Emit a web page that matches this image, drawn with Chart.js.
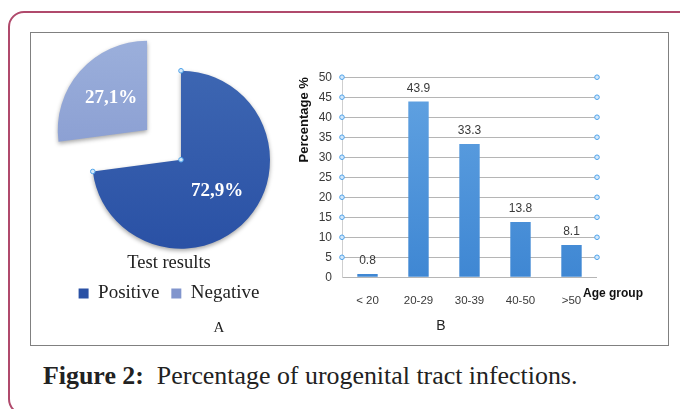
<!DOCTYPE html>
<html>
<head>
<meta charset="utf-8">
<script src="https://cdn.jsdelivr.net/npm/chart.js@4.4.0/dist/chart.umd.min.js"></script>
<style>
  html, body { margin: 0; padding: 0; background: #fff; width: 680px; height: 409px; overflow: hidden; }
  .frame { position: absolute; left: 8px; top: 11px; width: 720px; height: 400px; border: 2px solid #b04a6c; border-radius: 16px; }
  .panel { position: absolute; left: 30px; top: 32px; width: 639px; height: 314px; box-sizing: border-box; border: 1.5px solid #808080; }
  .box { position: absolute; }
  .tag { position: absolute; color: #222; transform: translate(-50%, -50%); line-height: 1; }
  .caption { position: absolute; left: 43px; top: 363px; font-family: "Liberation Serif", serif; font-size: 25.9px; line-height: 1; color: #222; white-space: nowrap; }
</style>
</head>
<body>
<div class="frame"></div>
<div class="panel"></div>
<div class="box" style="left:31px; top:34px; width:300px; height:300px;"><canvas id="pieChart"></canvas></div>
<div class="box" style="left:290px; top:60px; width:380px; height:270px;"><canvas id="barChart"></canvas></div>
<div class="tag" style="left:219px; top:327px; font-family:'Liberation Serif', serif; font-size:15px;">A</div>
<div class="tag" style="left:441px; top:325px; font-family:'Liberation Sans', sans-serif; font-size:14px;">B</div>
<div class="caption"><b>Figure 2:</b>&nbsp; Percentage of urogenital tract infections.</div>
<script>
// pie: test results
const pieLabels = ['Positive', 'Negative'];
const pieValues = [72.9, 27.1];
const pieTitle = 'Test results';
const pieColors = [['#3d66b2', '#2a51a5'], ['#9bafdb', '#8195cd']];

// bars: age groups
const ageGroups = ['< 20', '20-29', '30-39', '40-50', '>50'];
const infectionPct = [0.8, 43.9, 33.3, 13.8, 8.1];
const yAxisTitle = 'Percentage %';
const xAxisTitle = 'Age group';

const PIE_RADIUS = 89;
const EXPLODE = 180;       // chart.js draws offset/4
const DRAW_FACTOR = 0.25;

const handleDot = (ctx, x, y) => {
    ctx.save();
    ctx.beginPath();
    ctx.arc(x, y, 2.3, 0, Math.PI * 2);
    ctx.fillStyle = '#d3e8fb';
    ctx.fill();
    ctx.lineWidth = 1;
    ctx.strokeStyle = '#4fa3ea';
    ctx.stroke();
    ctx.restore();
};

const pieShadow = {
    id: 'pieShadow',
    beforeDatasetDraw(chart) {
        const ctx = chart.ctx;
        ctx.save();
        ctx.shadowColor = 'rgba(0,0,0,0.35)';
        ctx.shadowBlur = 4;
        ctx.shadowOffsetY = 2;
    },
    afterDatasetDraw(chart) {
        chart.ctx.restore();
    }
};

const pieLabelsPlugin = {
    id: 'pieLabels',
    afterDatasetsDraw(chart) {
        const ctx = chart.ctx;
        const meta = chart.getDatasetMeta(0);
        const offsets = chart.data.datasets[0].offset;
        meta.data.forEach((arc, i) => {
            const mid = (arc.startAngle + arc.endAngle) / 2;
            const d = offsets[i] * DRAW_FACTOR + arc.outerRadius * 0.54;
            const txt = pieValues[i].toFixed(1).replace('.', ',') + '%';
            ctx.save();
            ctx.font = "bold 19px 'Liberation Serif', serif";
            ctx.fillStyle = '#ffffff';
            ctx.textAlign = 'center';
            ctx.textBaseline = 'middle';
            ctx.fillText(txt, arc.x + Math.cos(mid) * d, arc.y + Math.sin(mid) * d);
            ctx.restore();
        });
        const a = meta.data[0];
        handleDot(ctx, a.x + Math.cos(a.startAngle) * a.outerRadius, a.y + Math.sin(a.startAngle) * a.outerRadius);
        handleDot(ctx, a.x, a.y);
        handleDot(ctx, a.x + Math.cos(a.endAngle) * a.outerRadius, a.y + Math.sin(a.endAngle) * a.outerRadius);
    }
};

const shiftLegend = {
    id: 'shiftLegend',
    afterLayout(chart) {
        chart.legend.left -= 12;
        chart.legend.right -= 12;
    }
};

function pieFill(c) {
    const [top, bottom] = pieColors[c.dataIndex] || pieColors[0];
    const area = c.chart.chartArea;
    if (!area) return bottom;
    const cy = (area.top + area.bottom) / 2;
    const g = c.chart.ctx.createLinearGradient(0, cy - PIE_RADIUS, 0, cy + PIE_RADIUS);
    g.addColorStop(0, top);
    g.addColorStop(1, bottom);
    return g;
}

new Chart(document.getElementById('pieChart'), {
    type: 'pie',
    data: {
        labels: pieLabels,
        datasets: [{
            data: pieValues,
            backgroundColor: pieFill,
            borderWidth: 0,
            offset: [0, EXPLODE],
            clip: false
        }]
    },
    options: {
        responsive: true,
        maintainAspectRatio: false,
        animation: false,
        radius: PIE_RADIUS,
        layout: { padding: { top: 32, bottom: 21, left: 0, right: 0 } },
        plugins: {
            legend: {
                position: 'bottom',
                title: {
                    display: true,
                    text: pieTitle,
                    color: '#222',
                    padding: 0,
                    font: { family: "'Liberation Serif', serif", size: 18.5, lineHeight: 1 }
                },
                labels: {
                    color: '#222',
                    boxWidth: 10,
                    boxHeight: 10,
                    padding: 12,
                    font: { family: "'Liberation Serif', serif", size: 19 }
                }
            },
            tooltip: { enabled: false }
        }
    },
    plugins: [pieShadow, pieLabelsPlugin, shiftLegend]
});

const barValues = {
    id: 'barValues',
    afterDatasetsDraw(chart) {
        const ctx = chart.ctx;
        const meta = chart.getDatasetMeta(0);
        ctx.save();
        ctx.font = "12px 'Liberation Sans', Arial, sans-serif";
        ctx.fillStyle = '#3a3a3a';
        ctx.textAlign = 'center';
        ctx.textBaseline = 'middle';
        meta.data.forEach((bar, i) => {
            ctx.fillText(String(infectionPct[i]), bar.x, bar.y - 13);
        });
        ctx.restore();
    },
    afterDraw(chart) {
        const ctx = chart.ctx;
        const y = chart.scales.y;
        const x = chart.scales.x;
        y.ticks.forEach(t => {
            if (t.value <= 0) return;
            const py = y.getPixelForValue(t.value);
            handleDot(ctx, chart.chartArea.left, py);
            handleDot(ctx, chart.chartArea.right, py);
        });
        ctx.save();
        ctx.font = "bold 12px 'Liberation Sans', Arial, sans-serif";
        ctx.fillStyle = '#111';
        ctx.textAlign = 'left';
        ctx.textBaseline = 'middle';
        ctx.fillText(xAxisTitle, x.right - 14, x.top + 16);
        ctx.restore();
    }
};

new Chart(document.getElementById('barChart'), {
    type: 'bar',
    data: {
        labels: ageGroups,
        datasets: [{
            data: infectionPct,
            backgroundColor: (c) => {
                const area = c.chart.chartArea;
                if (!area) return '#4a8fd8';
                const g = c.chart.ctx.createLinearGradient(0, area.top, 0, area.bottom);
                g.addColorStop(0, '#62a3e2');
                g.addColorStop(1, '#3f87d3');
                return g;
            },
            borderWidth: 0,
            barPercentage: 0.4,
            categoryPercentage: 1
        }]
    },
    options: {
        responsive: true,
        maintainAspectRatio: false,
        animation: false,
        layout: { padding: { left: 0, right: 73, top: 13.3, bottom: 22.7 } },
        plugins: { legend: { display: false }, tooltip: { enabled: false } },
        scales: {
            x: {
                afterFit: (s) => { s.height = 30; },
                grid: { display: false },
                border: { display: false },
                ticks: {
                    color: '#3a3a3a',
                    padding: 9,
                    maxRotation: 0,
                    font: { family: "'Liberation Sans', Arial, sans-serif", size: 11.5 }
                }
            },
            y: {
                min: 0,
                max: 50,
                afterFit: (s) => { s.width = 52; },
                grid: { color: '#b5b5b5', drawTicks: false },
                border: { display: true, color: '#cfcfcf' },
                ticks: {
                    stepSize: 5,
                    padding: 10,
                    color: '#3a3a3a',
                    font: { family: "'Liberation Sans', Arial, sans-serif", size: 12 }
                },
                title: {
                    display: true,
                    text: yAxisTitle,
                    align: 'end',
                    color: '#111',
                    padding: { top: 7, bottom: 0 },
                    font: { family: "'Liberation Sans', Arial, sans-serif", size: 13, weight: 'bold' }
                }
            }
        }
    },
    plugins: [barValues]
});
</script>
</body>
</html>
